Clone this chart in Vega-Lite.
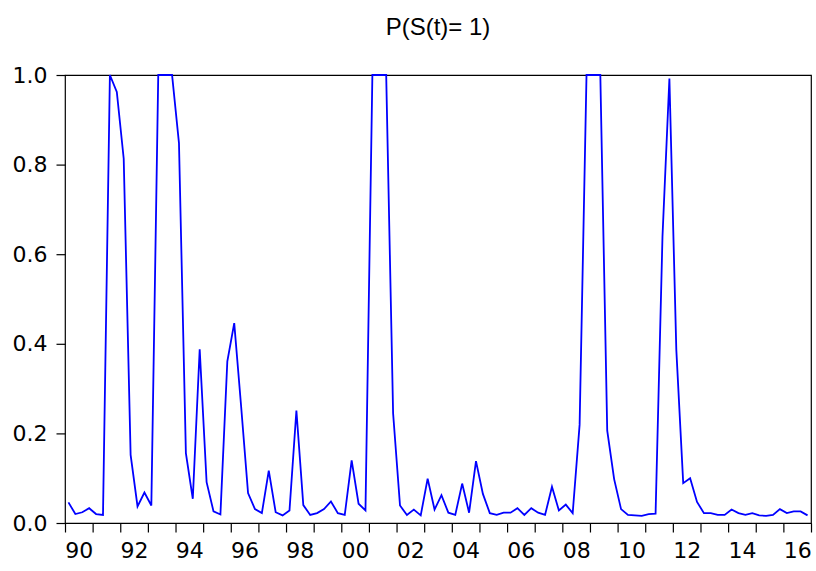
{
  "$schema": "https://vega.github.io/schema/vega-lite/v6.json",
  "width": 746,
  "height": 448,
  "autosize": {"type": "none"},
  "padding": {"left": 65, "top": 75, "right": 5, "bottom": 48},
  "background": "white",
  "config": {
    "font": "Liberation Sans",
    "view": {"stroke": "black", "strokeWidth": 1.2},
    "axis": {"ticks": true, "tickColor": "#000000", "tickWidth": 1.2, "tickOpacity": 1, "tickRound": false, "grid": false, "domain": false, "zindex": 1}
  },
  "title": {
    "text": "P(S(t)= 1)",
    "fontSize": 24,
    "fontWeight": "normal",
    "font": "Liberation Sans",
    "color": "black",
    "anchor": "middle",
    "offset": 24
  },
  "data": {
    "values": [
      {"t": 1990.125, "p": 0.046}, {"t": 1990.375, "p": 0.020}, {"t": 1990.625, "p": 0.024}, {"t": 1990.875, "p": 0.033},
      {"t": 1991.125, "p": 0.020}, {"t": 1991.375, "p": 0.018}, {"t": 1991.625, "p": 1.0}, {"t": 1991.875, "p": 0.962},
      {"t": 1992.125, "p": 0.813}, {"t": 1992.375, "p": 0.152}, {"t": 1992.625, "p": 0.037}, {"t": 1992.875, "p": 0.068},
      {"t": 1993.125, "p": 0.039}, {"t": 1993.375, "p": 1.0}, {"t": 1993.625, "p": 1.0}, {"t": 1993.875, "p": 1.0},
      {"t": 1994.125, "p": 0.848}, {"t": 1994.375, "p": 0.156}, {"t": 1994.625, "p": 0.054}, {"t": 1994.875, "p": 0.388},
      {"t": 1995.125, "p": 0.091}, {"t": 1995.375, "p": 0.026}, {"t": 1995.625, "p": 0.019}, {"t": 1995.875, "p": 0.361},
      {"t": 1996.125, "p": 0.446}, {"t": 1996.375, "p": 0.26}, {"t": 1996.625, "p": 0.067}, {"t": 1996.875, "p": 0.031},
      {"t": 1997.125, "p": 0.022}, {"t": 1997.375, "p": 0.117}, {"t": 1997.625, "p": 0.024}, {"t": 1997.875, "p": 0.017},
      {"t": 1998.125, "p": 0.028}, {"t": 1998.375, "p": 0.251}, {"t": 1998.625, "p": 0.040}, {"t": 1998.875, "p": 0.018},
      {"t": 1999.125, "p": 0.022}, {"t": 1999.375, "p": 0.031}, {"t": 1999.625, "p": 0.048}, {"t": 1999.875, "p": 0.022},
      {"t": 2000.125, "p": 0.018}, {"t": 2000.375, "p": 0.140}, {"t": 2000.625, "p": 0.043}, {"t": 2000.875, "p": 0.028},
      {"t": 2001.125, "p": 1.0}, {"t": 2001.375, "p": 1.0}, {"t": 2001.625, "p": 1.0}, {"t": 2001.875, "p": 0.245},
      {"t": 2002.125, "p": 0.039}, {"t": 2002.375, "p": 0.018}, {"t": 2002.625, "p": 0.030}, {"t": 2002.875, "p": 0.017},
      {"t": 2003.125, "p": 0.099}, {"t": 2003.375, "p": 0.030}, {"t": 2003.625, "p": 0.062}, {"t": 2003.875, "p": 0.023},
      {"t": 2004.125, "p": 0.018}, {"t": 2004.375, "p": 0.088}, {"t": 2004.625, "p": 0.023}, {"t": 2004.875, "p": 0.138},
      {"t": 2005.125, "p": 0.065}, {"t": 2005.375, "p": 0.022}, {"t": 2005.625, "p": 0.018}, {"t": 2005.875, "p": 0.023},
      {"t": 2006.125, "p": 0.023}, {"t": 2006.375, "p": 0.033}, {"t": 2006.625, "p": 0.018}, {"t": 2006.875, "p": 0.033},
      {"t": 2007.125, "p": 0.023}, {"t": 2007.375, "p": 0.018}, {"t": 2007.625, "p": 0.081}, {"t": 2007.875, "p": 0.028},
      {"t": 2008.125, "p": 0.041}, {"t": 2008.375, "p": 0.022}, {"t": 2008.625, "p": 0.219}, {"t": 2008.875, "p": 1.0},
      {"t": 2009.125, "p": 1.0}, {"t": 2009.375, "p": 1.0}, {"t": 2009.625, "p": 0.206}, {"t": 2009.875, "p": 0.098},
      {"t": 2010.125, "p": 0.031}, {"t": 2010.375, "p": 0.018}, {"t": 2010.625, "p": 0.017}, {"t": 2010.875, "p": 0.016},
      {"t": 2011.125, "p": 0.020}, {"t": 2011.375, "p": 0.021}, {"t": 2011.625, "p": 0.64}, {"t": 2011.875, "p": 0.992},
      {"t": 2012.125, "p": 0.387}, {"t": 2012.375, "p": 0.089}, {"t": 2012.625, "p": 0.100}, {"t": 2012.875, "p": 0.047},
      {"t": 2013.125, "p": 0.022}, {"t": 2013.375, "p": 0.022}, {"t": 2013.625, "p": 0.018}, {"t": 2013.875, "p": 0.018},
      {"t": 2014.125, "p": 0.030}, {"t": 2014.375, "p": 0.022}, {"t": 2014.625, "p": 0.018}, {"t": 2014.875, "p": 0.022},
      {"t": 2015.125, "p": 0.017}, {"t": 2015.375, "p": 0.016}, {"t": 2015.625, "p": 0.018}, {"t": 2015.875, "p": 0.031},
      {"t": 2016.125, "p": 0.022}, {"t": 2016.375, "p": 0.026}, {"t": 2016.625, "p": 0.026}, {"t": 2016.875, "p": 0.017}
    ]
  },
  "mark": {"type": "line", "color": "#0000FF", "strokeWidth": 1.8},
  "encoding": {
    "x": {
      "field": "t",
      "type": "quantitative",
      "scale": {"domain": [1990, 2017], "nice": false, "zero": false},
      "axis": {
        "title": null,
        "values": [1990, 1991, 1992, 1993, 1994, 1995, 1996, 1997, 1998, 1999, 2000, 2001, 2002, 2003, 2004, 2005, 2006, 2007, 2008, 2009, 2010, 2011, 2012, 2013, 2014, 2015, 2016, 2017],
        "labelExpr": "(datum.value % 2 == 0 && datum.value < 2017) ? format(datum.value % 100, '02d') : ''",
        "labelOffset": 13.8,
        "labelAlign": "center",
        "tickSize": 9,
        "labelPadding": 8,
        "labelFont": "DejaVu Sans",
        "labelFontSize": 22,
        "labelColor": "black",
        "labelOverlap": false,
        "labelFlush": false
      }
    },
    "y": {
      "field": "p",
      "type": "quantitative",
      "scale": {"domain": [0, 1], "nice": false},
      "axis": {
        "title": null,
        "values": [0, 0.2, 0.4, 0.6, 0.8, 1.0],
        "format": ".1f",
        "tickSize": 9,
        "labelPadding": 9,
        "labelFont": "DejaVu Sans",
        "labelFontSize": 22,
        "labelColor": "black",
        "labelFlush": false,
        "labelOverlap": false
      }
    }
  }
}
